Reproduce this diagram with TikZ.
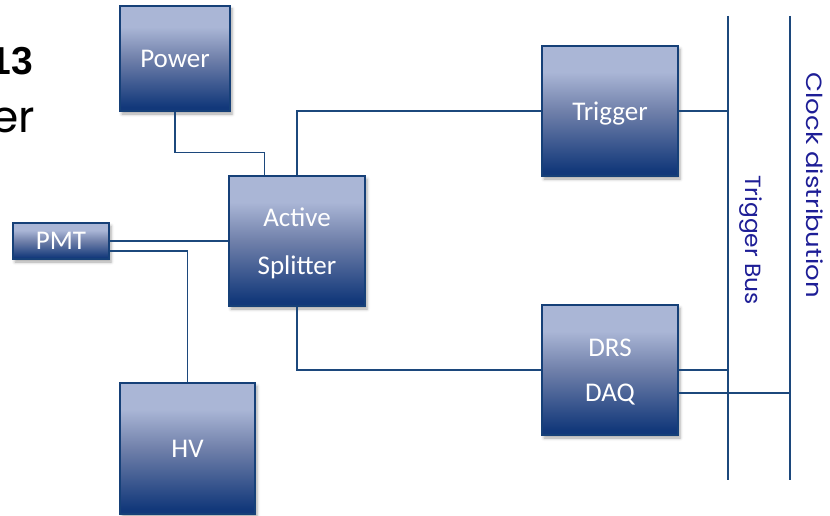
\documentclass[tikz,border=0pt]{standalone}
\usepackage{fontspec}
\setmainfont{Carlito}
\newfontfamily\geofont{Poppins}
\newfontfamily\titlefont{Liberation Sans}
\usetikzlibrary{shadows.blur}

\definecolor{boxtop}{RGB}{170,182,214}
\definecolor{boxmid}{RGB}{112,128,170}
\definecolor{boxbot}{RGB}{18,56,122}
\definecolor{edgeblue}{RGB}{22,64,120}
\definecolor{wireblue}{RGB}{28,72,124}
\definecolor{labelblue}{RGB}{30,30,150}

% light at the top, dark navy at the bottom
\pgfdeclareverticalshading{boxshade}{100bp}{%
  color(0bp)=(boxbot); color(27bp)=(boxbot); color(50bp)=(boxmid);
  color(65bp)=(boxtop); color(75bp)=(boxtop); color(100bp)=(boxtop)}

\tikzset{
  unit/.style={draw=edgeblue, line width=1.3pt, shading=boxshade,
    blur shadow={shadow xshift=2pt, shadow yshift=-3pt,
      shadow blur radius=3pt, shadow opacity=35},
    inner sep=0pt, text=white, align=center, text depth=0pt,
    font=\fontsize{27}{32}\selectfont},
  wire/.style={draw=wireblue, line width=1.5pt},
  buslabel/.style={rotate=-90, text=labelblue, inner sep=0pt,
    font=\geofont\fontsize{22}{26}\selectfont}
}

\begin{document}
\begin{tikzpicture}[x=1pt,y=-1pt]
\useasboundingbox (0,0) rectangle (830,516);
\clip (0,0) rectangle (830,516);

% heading fragments
\node[anchor=base east, inner sep=0pt,
      font=\titlefont\bfseries\fontsize{39}{45}\selectfont] (year) at (33,75) {13};
\node[anchor=base east, inner sep=0pt,
      font=\geofont\fontsize{44}{50}\selectfont] (sub) at (35,132) {er};

% units
\node[unit, minimum width=110pt, minimum height=105pt] (power) at (175,58.5) {Power};
\node[unit, minimum width=136pt, minimum height=130pt,
      font=\fontsize{27}{48}\selectfont] (splitter) at (297,241) {Active\\Splitter};
\node[unit, minimum width=96pt, minimum height=36pt] (pmt) at (61,241) {PMT};
\node[unit, minimum width=135pt, minimum height=131pt] (hv) at (187.5,448.5) {HV};
\node[unit, minimum width=136pt, minimum height=130pt] (trigger) at (610,111) {Trigger};
\node[unit, minimum width=136pt, minimum height=130pt,
      font=\fontsize{27}{45}\selectfont] (drs) at (610,370) {DRS\\DAQ};

% buses
\coordinate (tbtop) at (728,16);
\coordinate (tbbot) at (728,480);
\coordinate (cltop) at (790,16);
\coordinate (clbot) at (790,480);
\draw[wire] (tbtop) -- (tbbot);
\draw[wire] (cltop) -- (clbot);
\node[buslabel] (tblabel) at (751,240) {\scalebox{1.06}[1]{Trigger Bus}};
\node[buslabel] (cllabel) at (815,185) {\scalebox{1.18}[1]{Clock distribution}};

% connections
\draw[wire] (power.south) |- ([xshift=36pt,yshift=23pt]splitter.north west)
  -- ([xshift=36pt]splitter.north west);
\draw[wire] (splitter.north) |- (trigger.west);
\draw[wire] (trigger.east) -- (trigger.east -| tbtop);
\draw[wire] (pmt.east) -- (splitter.west);
\draw[wire] ([yshift=-10pt]pmt.east) -| (hv.north);
\draw[wire] (splitter.south) |- (drs.west);
\draw[wire] (drs.east) -- (drs.east -| tbtop);
\draw[wire] ([yshift=-23pt]drs.east) -- ([yshift=-23pt]drs.east -| cltop);
\end{tikzpicture}
\end{document}
